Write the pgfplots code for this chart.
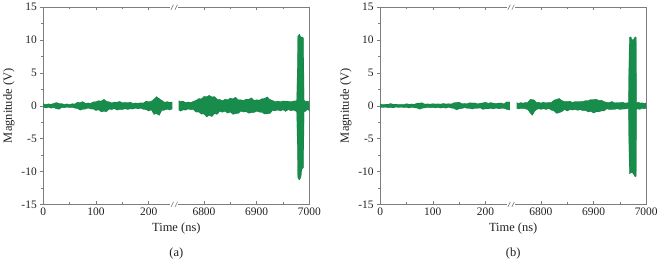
\documentclass[border=0pt]{standalone}
\usepackage{fontspec}
\setmainfont{Liberation Serif}
\usepackage{pgfplots}
\usepackage{pgfplotstable}
\pgfplotsset{compat=1.18}
\usepgfplotslibrary{fillbetween}

\definecolor{sig}{RGB}{24,140,74}
\definecolor{sigedge}{RGB}{12,122,62}
\definecolor{axgray}{RGB}{125,125,125}
\definecolor{txt}{RGB}{35,31,32}

% envelope of the recorded signal: time (ns), upper and lower extremes (V)
\pgfplotstableread{
t hi lo
0 0.32 -0.22
5 0.22 -0.34
10 0.30 -0.24
15 0.24 -0.36
20 0.38 -0.26
25 0.50 -0.46
30 0.36 -0.52
35 0.34 -0.28
40 0.22 -0.30
45 0.30 -0.20
50 0.20 -0.28
55 0.32 -0.24
60 0.28 -0.36
65 0.56 -0.42
70 0.48 -0.66
75 0.64 -0.52
80 0.38 -0.50
85 0.44 -0.34
90 0.38 -0.48
95 0.60 -0.50
100 0.62 -0.72
105 0.78 -0.60
110 0.72 -0.92
115 1.00 -0.84
120 0.70 -0.90
125 0.60 -0.50
130 0.44 -0.58
135 0.58 -0.42
140 0.54 -0.66
145 0.68 -0.56
150 0.46 -0.58
155 0.54 -0.44
160 0.48 -0.56
165 0.56 -0.46
170 0.38 -0.50
175 0.44 -0.36
180 0.40 -0.48
185 0.46 -0.36
190 0.42 -0.54
195 0.72 -0.58
200 0.64 -0.80
205 0.70 -0.60
210 1.00 -1.30
215 1.40 -1.20
220 1.10 -1.45
225 0.84 -0.72
230 0.54 -0.66
235 0.64 -0.52
240 0.54 -0.64
245 0.58 -0.46
}\aleft

\pgfplotstableread{
t hi lo
6752 0.78 -0.66
6756 0.68 -0.82
6760 0.74 -0.62
6765 0.50 -0.66
6770 0.58 -0.48
6775 0.52 -0.60
6780 0.68 -0.58
6785 0.84 -0.96
6790 1.10 -0.95
6795 1.05 -1.25
6800 1.45 -1.25
6805 1.40 -1.70
6810 1.60 -1.45
6815 1.35 -1.65
6820 1.40 -1.20
6825 1.00 -1.30
6830 0.98 -0.85
6835 0.78 -0.98
6840 1.02 -0.82
6845 0.92 -1.12
6850 1.18 -0.95
6855 1.05 -1.30
6860 1.32 -1.20
6865 0.92 -1.15
6870 0.92 -0.82
6875 0.82 -0.94
6880 1.02 -0.90
6885 1.00 -1.12
6890 1.22 -1.05
6895 0.84 -1.02
6900 0.92 -0.82
6905 0.86 -0.96
6910 1.08 -0.98
6915 1.12 -1.25
6920 1.36 -1.22
6925 0.98 -1.18
6930 0.82 -0.74
6935 0.64 -0.76
6940 0.72 -0.64
6945 0.64 -0.78
6950 0.74 -0.60
6955 0.70 -0.86
6960 0.70 -0.58
6965 0.62 -0.76
6970 0.74 -0.64
6976 0.76 -0.90
6978 10.60 -10.90
6981 10.90 -11.30
6984 10.40 -10.80
6986 10.50 -9.60
6989 10.30 -9.40
6990 0.90 -0.95
6993 0.66 -0.80
6996 0.72 -0.56
7000 0.64 -0.74
}\aright

\pgfplotstableread{
t hi lo
0 0.26 -0.20
5 0.20 -0.26
10 0.24 -0.20
15 0.24 -0.30
20 0.34 -0.26
25 0.24 -0.32
30 0.26 -0.18
35 0.20 -0.26
40 0.24 -0.20
45 0.22 -0.28
50 0.32 -0.24
55 0.24 -0.34
60 0.28 -0.22
65 0.24 -0.30
70 0.40 -0.34
75 0.42 -0.52
80 0.46 -0.36
85 0.26 -0.32
90 0.30 -0.24
95 0.26 -0.30
100 0.32 -0.26
105 0.28 -0.32
110 0.30 -0.26
115 0.26 -0.34
120 0.36 -0.28
125 0.28 -0.36
130 0.32 -0.24
135 0.28 -0.34
140 0.46 -0.40
145 0.52 -0.62
150 0.56 -0.46
155 0.32 -0.42
160 0.36 -0.28
165 0.34 -0.38
170 0.46 -0.40
175 0.44 -0.50
180 0.44 -0.38
185 0.30 -0.38
190 0.40 -0.32
195 0.44 -0.54
200 0.56 -0.46
205 0.38 -0.46
210 0.50 -0.40
215 0.40 -0.48
220 0.38 -0.34
225 0.42 -0.46
230 0.44 -0.40
235 0.30 -0.38
240 0.60 -0.54
246 0.58 -0.64
}\bleft

\pgfplotstableread{
t hi lo
6754 0.48 -0.40
6758 0.38 -0.48
6762 0.50 -0.40
6766 0.40 -0.44
6770 0.50 -0.44
6775 0.52 -0.58
6780 1.00 -1.10
6784 0.95 -1.45
6788 0.86 -0.84
6792 0.50 -0.58
6796 0.56 -0.44
6800 0.42 -0.54
6805 0.56 -0.44
6810 0.44 -0.56
6815 0.54 -0.42
6820 0.54 -0.66
6825 0.86 -0.78
6830 1.00 -1.15
6835 1.12 -1.05
6840 0.80 -0.88
6845 0.66 -0.56
6850 0.66 -0.80
6855 0.70 -0.58
6860 0.52 -0.64
6865 0.66 -0.58
6870 0.62 -0.68
6875 0.66 -0.60
6880 0.66 -0.74
6885 0.80 -0.72
6890 0.80 -0.94
6895 0.96 -0.86
6900 0.94 -1.10
6905 1.02 -0.92
6910 0.82 -0.92
6915 0.86 -0.78
6920 0.64 -0.78
6925 0.54 -0.46
6930 0.50 -0.56
6935 0.66 -0.56
6940 0.44 -0.54
6945 0.50 -0.44
6950 0.48 -0.56
6955 0.56 -0.50
6960 0.40 -0.48
6966 0.50 -0.42
6968 10.40 -10.30
6971 10.50 -10.20
6973 10.00 -10.10
6976 10.10 -10.40
6979 10.50 -10.80
6981 10.40 -10.70
6982 0.45 -0.50
6985 0.58 -0.48
6988 0.42 -0.54
6992 0.46 -0.38
6996 0.38 -0.46
7000 0.44 -0.40
}\bright

% broken time axis: 0..250 ns then 6745..7000 ns (shifted by 6495)
\pgfplotsset{
  panel/.style={
    width=267pt, height=198pt, scale only axis,
    xmin=0, xmax=505, ymin=-15, ymax=15,
    xtick={0,100,200,305,405,505},
    xticklabels={0,100,200,6800,6900,7000},
    minor xtick={50,150,355,455},
    ytick={-15,-10,...,15},
    minor ytick={-12.5,-7.5,...,12.5},
    ytick pos=left, xtick pos=both,
    tick align=inside,
    major tick length=3pt, minor tick length=2pt,
    major y tick style={xshift=-3pt}, minor y tick style={xshift=-2pt},
    axis line style={axgray, line width=0.6pt},
    tick style={axgray, line width=0.5pt},
    /pgf/number format/assume math mode=true,
    tick label style={font=\fontsize{11.5}{13}\selectfont, text=txt},
    yticklabel style={xshift=-3pt},
    label style={font=\fontsize{12.5}{14}\selectfont, text=txt},
    xlabel={Time (ns)}, ylabel={Magnitude (V)},
    clip=false,
    after end axis/.code={
      \foreach \yy in {-15,15}{
        \fill[white] ([xshift=-4pt,yshift=-1.5pt]axis cs:249,\yy) rectangle ([xshift=4pt,yshift=1.5pt]axis cs:249,\yy);
        \draw[axgray, line width=0.6pt] ([xshift=-3.5pt,yshift=-2.5pt]axis cs:249,\yy) -- ++(2.5pt,5pt);
        \draw[axgray, line width=0.6pt] ([xshift=0.5pt,yshift=-2.5pt]axis cs:249,\yy) -- ++(2.5pt,5pt);
      }
      \node[font=\fontsize{12.5}{14}\selectfont, text=txt] at ([yshift=-49pt]axis cs:252.5,-15) {#1};
    },
  },
  sigline/.style={sigedge, line width=0.25pt, forget plot},
}

\begin{document}
\begin{tikzpicture}
\begin{axis}[panel={(a)}, name=a]
  \addplot[sigline, name path=ahi] table[x=t, y=hi] \aleft;
  \addplot[sigline, name path=alo] table[x=t, y=lo] \aleft;
  \addplot[sig] fill between[of=ahi and alo];
  \addplot[sigline, name path=arhi] table[x expr=\thisrow{t}-6495, y=hi] \aright;
  \addplot[sigline, name path=arlo] table[x expr=\thisrow{t}-6495, y=lo] \aright;
  \addplot[sig] fill between[of=arhi and arlo];
\end{axis}
\begin{axis}[panel={(b)}, name=b, at={(338pt,0)}]
  \addplot[sigline, name path=bhi] table[x=t, y=hi] \bleft;
  \addplot[sigline, name path=blo] table[x=t, y=lo] \bleft;
  \addplot[sig] fill between[of=bhi and blo];
  \addplot[sigline, name path=brhi] table[x expr=\thisrow{t}-6495, y=hi] \bright;
  \addplot[sigline, name path=brlo] table[x expr=\thisrow{t}-6495, y=lo] \bright;
  \addplot[sig] fill between[of=brhi and brlo];
\end{axis}
\end{tikzpicture}
\end{document}
